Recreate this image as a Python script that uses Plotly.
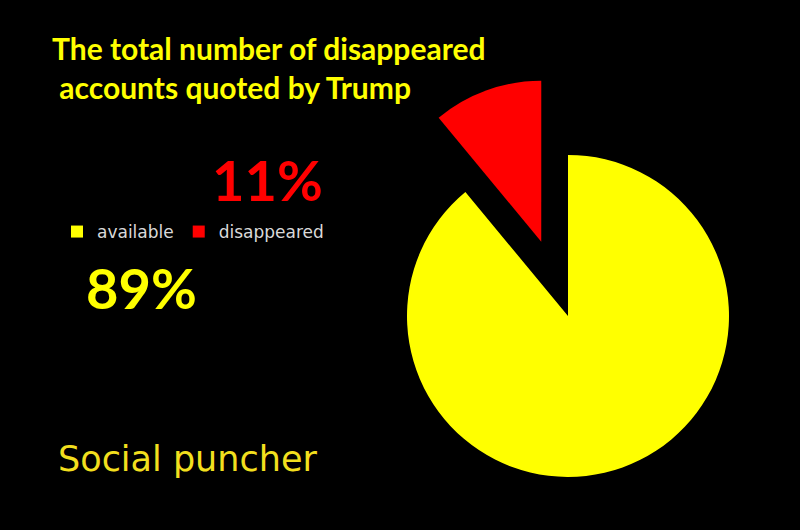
import math
import plotly.graph_objects as go

# ---- data ----
labels = ["available", "disappeared"]
values = [89, 11]
colors = ["#ffff00", "#ff0000"]
title_lines = ["The total number of disappeared", "&nbsp;accounts quoted by Trump"]
brand = "Social puncher"

W, H = 800, 530
TRANSPARENT = "rgba(0,0,0,0)"

# pie geometry (px)
cx, cy, r = 568, 316, 161
pull = 0.49

total = sum(values)
# exploded slice: last one, drawn clockwise -> ends at 12 o'clock
frac = values[1] / total
mid = 2 * math.pi * frac / 2
dx = -pull * r * math.sin(mid)
dy = -pull * r * math.cos(mid)


def dom(px, py):
    return dict(x=[(px - r) / W, (px + r) / W], y=[1 - (py + r) / H, 1 - (py - r) / H])


fig = go.Figure()
fig.add_trace(go.Pie(
    labels=labels, values=values, sort=False, direction="clockwise", rotation=0,
    marker=dict(colors=[colors[0], TRANSPARENT], line=dict(width=0)),
    textinfo="none", hoverinfo="skip", showlegend=False, domain=dom(cx, cy)))
fig.add_trace(go.Pie(
    labels=labels, values=values, sort=False, direction="clockwise", rotation=0,
    marker=dict(colors=[TRANSPARENT, colors[1]], line=dict(width=0)),
    textinfo="none", hoverinfo="skip", showlegend=False, domain=dom(cx + dx, cy + dy)))

# legend entries
for lab, col in zip(labels, colors):
    fig.add_trace(go.Scatter(x=[None], y=[None], mode="markers", name=lab,
                             marker=dict(symbol="square", size=12, color=col)))

# percentage labels
fig.add_annotation(text=f"{values[1]}%", x=267 / W, y=1 - 180 / H, xref="paper", yref="paper",
                   xanchor="center", yanchor="middle", showarrow=False,
                   font=dict(family="Lato", size=56, color=colors[1], weight="bold"))
fig.add_annotation(text=f"{values[0]}%", x=141 / W, y=1 - 287 / H, xref="paper", yref="paper",
                   xanchor="center", yanchor="middle", showarrow=False,
                   font=dict(family="Lato", size=56, color=colors[0], weight="bold"))

# brand
fig.add_annotation(text=brand, x=56 / W, y=1 - 459 / H, xref="paper", yref="paper",
                   xanchor="left", yanchor="middle", showarrow=False,
                   font=dict(family="DejaVu Sans", size=35, color="#f2df1e"))

fig.update_layout(
    width=W, height=H,
    paper_bgcolor="black", plot_bgcolor="black",
    margin=dict(l=0, r=0, t=0, b=0),
    title=dict(text="<br>".join(title_lines), x=52 / W, xanchor="left", xref="paper",
               y=1 - 60 / H, yanchor="top", yref="paper",
               font=dict(family="Lato", size=30, color="#ffff00", weight="bold")),
    xaxis=dict(visible=False), yaxis=dict(visible=False),
    legend=dict(orientation="h", x=57 / W, y=1 - 214 / H, xanchor="left", yanchor="top",
                font=dict(family="DejaVu Sans", size=17, color="#d9d9d9"),
                bgcolor="rgba(0,0,0,0)"),
    showlegend=True,
)

fig.write_html("out.html", config={"displayModeBar": False},
               post_script="document.body.style.margin='0';")
